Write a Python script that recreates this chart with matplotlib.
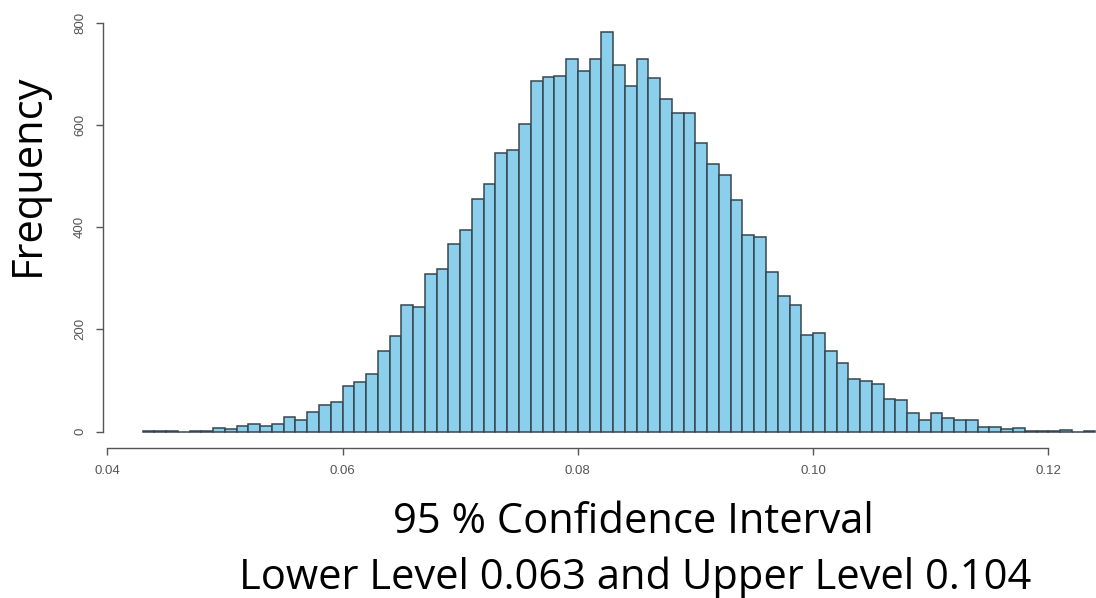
import numpy as np
import matplotlib
matplotlib.use("Agg")
import matplotlib.pyplot as plt

# ---- data ----
bin_start = 0.043
bin_width = 0.001
counts = [1, 1, 1, 0, 1, 1, 6, 4, 10, 14, 11, 15, 29, 22, 39, 52, 57, 89, 96, 112,
          158, 186, 247, 244, 308, 318, 367, 394, 455, 484, 545, 550, 602, 686, 693,
          696, 728, 706, 728, 781, 718, 676, 729, 692, 650, 623, 623, 564, 523, 501,
          453, 384, 381, 313, 266, 247, 189, 192, 158, 135, 103, 99, 93, 64, 61, 37,
          22, 36, 26, 22, 22, 9, 9, 4, 7, 1, 1, 1, 3, 0, 1]
x_ticks = [0.04, 0.06, 0.08, 0.10, 0.12]
x_tick_labels = ["0.04", "0.06", "0.08", "0.10", "0.12"]
y_ticks = [0, 200, 400, 600, 800]
y_label = "Frequency"
title_line1 = "95 % Confidence Interval"
title_line2 = "Lower Level 0.063 and Upper Level 0.104"

edges = bin_start + bin_width * np.arange(len(counts))

W, H = 1096, 598
fig = plt.figure(figsize=(W / 100, H / 100), dpi=100)
ax = fig.add_axes([107.3 / W, (H - 431.5) / H, 941.0 / W, 431.5 / H])
ax.set_xlim(0.04, 0.12)
ax.set_ylim(0, 431.5 / 0.511)

ax.bar(edges, counts, width=bin_width, align="edge", color="#8BCFEC",
       edgecolor="#36464f", linewidth=1.1, clip_on=False)

for s in ["top", "right"]:
    ax.spines[s].set_visible(False)
gray = "#555555"
ax.spines["left"].set_bounds(0, 800)
ax.spines["left"].set_position(("outward", 3.3))
ax.spines["bottom"].set_bounds(0.04, 0.12)
ax.spines["bottom"].set_position(("outward", 12.2))
for s in ["left", "bottom"]:
    ax.spines[s].set_color(gray)
    ax.spines[s].set_linewidth(1.0)

ax.set_xticks(x_ticks)
ax.set_xticklabels(x_tick_labels, family="Liberation Sans", fontsize=9.5, color=gray)
ax.set_yticks(y_ticks)
ax.set_yticklabels([str(v) for v in y_ticks], family="Liberation Sans", fontsize=9.5,
                   color=gray, rotation=90, va="center")
ax.tick_params(axis="both", length=5, width=1.0, color=gray)
ax.tick_params(axis="x", pad=7)
ax.tick_params(axis="y", pad=7)

fig.text(28 / W, 1 - 175 / H, y_label, rotation=90, ha="center", va="center",
         family="Open Sans", fontsize=30, color="black")
fig.text(633 / W, 1 - 522 / H, title_line1, ha="center", va="center",
         family="Open Sans", fontsize=30, color="black")
fig.text(635 / W, 1 - 578 / H, title_line2, ha="center", va="center",
         family="Open Sans", fontsize=30, color="black")

fig.savefig("out.png", dpi=100)
